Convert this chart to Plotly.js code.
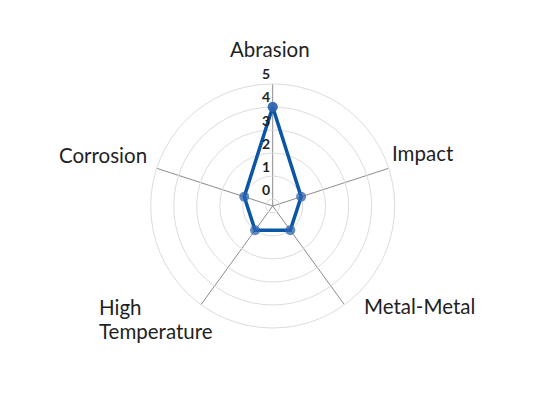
<!DOCTYPE html>
<html>
<head>
<meta charset="utf-8">
<script src="https://cdn.plot.ly/plotly-3.0.1.min.js"></script>
<style>html,body{margin:0;padding:0;background:#fff;}#chart{width:558px;height:400px;}</style>
</head>
<body>
<div id="chart"></div>
<script>
var categories = ["Abrasion", "Impact", "Metal-Metal", "High<br>Temperature", "Corrosion"];
var values = [4, 1, 1, 1, 1];
var radialTicks = [0, 1, 2, 3, 4, 5];
var radialTickText = ["0", "1", "2", "3", "4", "5"];

var W = 558, H = 400;
// label placement (layout only): pixel anchor for each category label
var labelPlacement = [
  {x: 269.7, y: 49,  xanchor: "center"},
  {x: 389.5, y: 153, xanchor: "left"},
  {x: 362,   y: 306, xanchor: "left"},
  {x: 96.5,  y: 307, xanchor: "left", lineGap: 23.5},
  {x: 148.5, y: 155, xanchor: "right"}
];

var annotations = [];
categories.forEach(function (cat, i) {
  var p = labelPlacement[i];
  cat.split("<br>").forEach(function (line, j) {
    annotations.push({
      xref: "paper", yref: "paper",
      x: p.x / W, y: 1 - (p.y + j * (p.lineGap || 0)) / H,
      xanchor: p.xanchor, yanchor: "middle",
      text: line, showarrow: false,
      font: {family: "Lato", size: 20.5, color: "#1f1f24"}
    });
  });
});

var trace = {
  type: "scatterpolar",
  r: values.concat([values[0]]),
  theta: categories.concat([categories[0]]),
  mode: "lines+markers",
  line: {color: "#0a56a6", width: 3.5},
  marker: {color: "rgba(45,100,175,0.75)", size: 10},
  hoverinfo: "none",
  showlegend: false
};

var layout = {
  width: W, height: H,
  margin: {l: 0, r: 0, t: 0, b: 0},
  paper_bgcolor: "#fff",
  showlegend: false,
  annotations: annotations,
  polar: {
    domain: {x: [0.2701, 0.7073], y: [0.18, 0.79]},
    bgcolor: "rgba(0,0,0,0)",
    radialaxis: {
      range: [-0.3, 5],
      tickvals: radialTicks,
      ticktext: radialTickText.map(function (t) { return t + "<br>&nbsp;"; }),
      angle: 90,
      tickangle: 90,
      side: "counterclockwise",
      showline: false,
      ticks: "",
      gridcolor: "#dcdcdc",
      gridwidth: 1,
      tickfont: {family: "Lato", size: 14, color: "#1f1f24", weight: "bold"}
    },
    angularaxis: {
      rotation: 90,
      direction: "clockwise",
      linecolor: "#dcdcdc",
      linewidth: 1,
      gridcolor: "#8c8c8c",
      gridwidth: 1,
      showticklabels: false,
      ticks: ""
    }
  }
};

Plotly.newPlot("chart", [trace], layout, {displayModeBar: false, staticPlot: true});
</script>
</body>
</html>
